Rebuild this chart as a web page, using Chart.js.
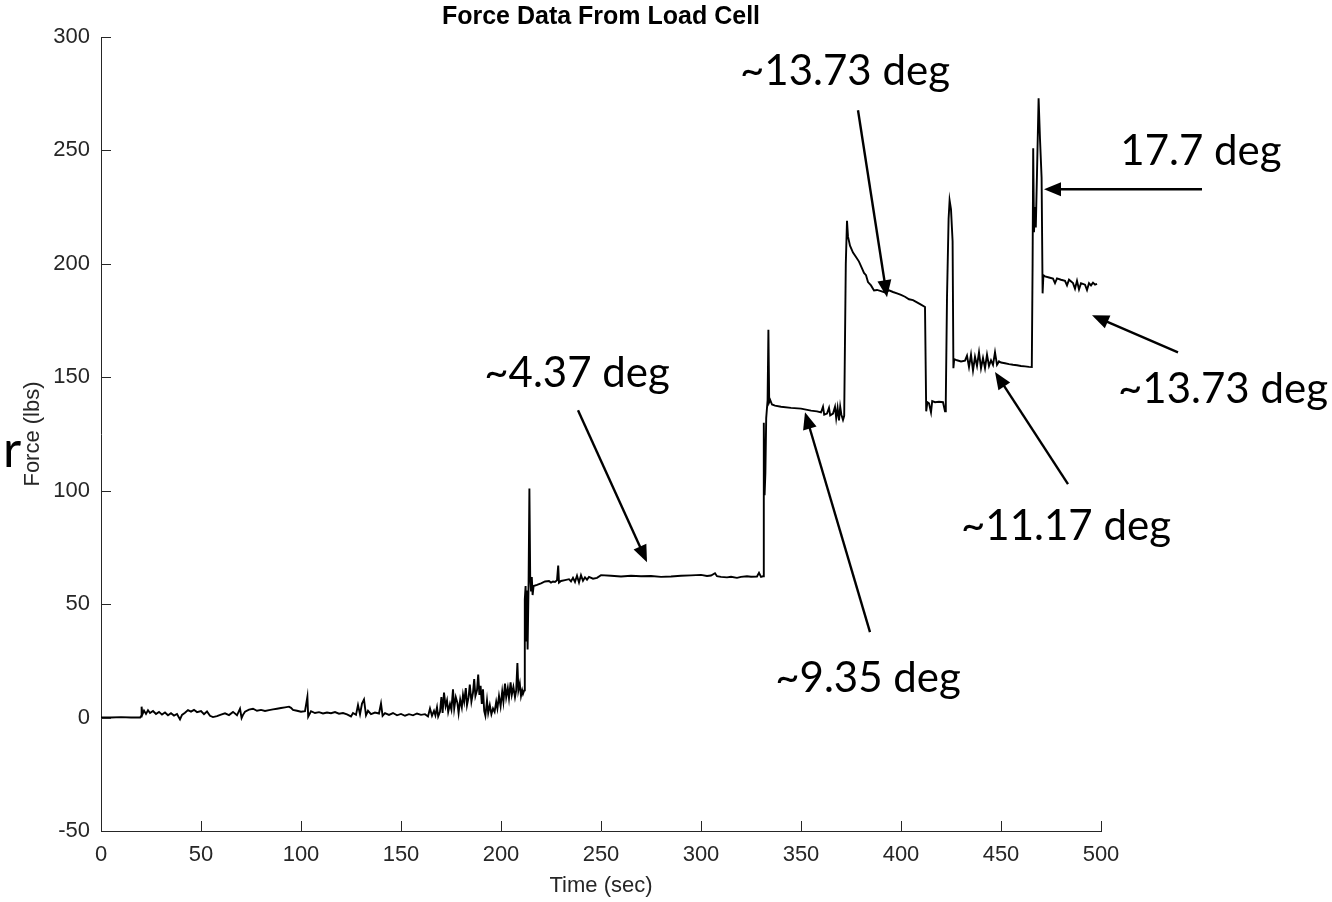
<!DOCTYPE html>
<html>
<head>
<meta charset="utf-8">
<title>Force Data From Load Cell</title>
<script src="https://cdn.jsdelivr.net/npm/chart.js@4.4.1/dist/chart.umd.min.js"></script>
<style>
  html, body { margin: 0; padding: 0; background: #fff; }
  #wrap { position: relative; width: 1332px; height: 902px; }
</style>
</head>
<body>
<div id="wrap"><canvas id="forceChart"></canvas></div>
<script>
const chartTitle = "Force Data From Load Cell";
const xTitle = "Time (sec)";
const yTitle = "Force (lbs)";
const xTickValues = [0, 50, 100, 150, 200, 250, 300, 350, 400, 450, 500];
const yTickValues = [-50, 0, 50, 100, 150, 200, 250, 300];

// samples are [time (sec), force (lbs)]
const restSamples = [
  [0,0],[5,0],[10,0.2],[15,0],[19.6,0],[20,0.6],[20.3,4.8],[20.7,1.4],[21.5,3.1],[22.5,1.6],
  [23.5,3.2],[24.5,2.0],[26,2.9],[27.5,1.6],[29,2.5],[30.5,1.3],[32,2.2],[33.5,1.0],[35,1.9],
  [36.5,0.9],[38,1.6],[39.5,-0.8],[40.5,1.2],[42,2.1],[43.5,3.3],[45,2.6],[46.5,3.4],[48,2.4],
  [50,2.9],[51.5,1.5],[53,2.7],[54.5,0.8],[56,0.2],[58,0.6],[60,1.3],[62,1.9],[64,1.1],[66,2.5],
  [68,1.0],[69.5,3.9],[70.3,-0.2],[71,1.2],[72,2.6],[74,3.5],[76,3.9],[78,3.0],[80,3.4],[82,2.9],
  [84,3.3],[86,3.6],[88,3.9],[90,4.2],[92,4.5],[94,4.8],[95,4.3],[96,3.4],[98,3.0],[100,2.6],
  [102,2.8],[103.2,9.2],[103.6,0.4],[105,2.8],[107,2.0],[109,2.4],[111,1.8],[113,2.2],[115,1.9],
  [117,2.4],[119,1.7],[121,2.0],[123,1.4],[125,0.5],[126,2.0],[127.5,1.2],[128.5,5.5],[129.5,1.5],
  [130.5,6.2],[131.5,8.0],[132.5,1.0],[133.5,3.0],[135,1.5],[137,2.2],[139,1.8],[140,6.2],
  [140.8,0.8],[142,2.0],[144,1.2],[146,2.0],[148,1.0],[150,1.6],[152,0.8],[154,1.5],[156,1.0],
  [158,1.8],[160,1.2],[162,1.5],[163.5,0.5],[164.5,4.0],[165.5,0.8]
];

const preloadSamples = [
  [166.5,3],[167.2,1],[168,4.5],[168.6,0.5],[169.5,2.5],[170.2,9],[170.8,2],[171.5,11],[172.3,5],
  [173,7.5],[173.6,2.5],[174.5,6],[175.2,3.5],[176,12.5],[176.6,4],[177.4,9],[178.2,6.5],[178.8,2],
  [179.6,8],[180.4,4.5],[181,10],[181.6,7],[182.4,13],[183,5.5],[183.8,9],[184.4,14.5],[185.2,7],
  [186,11],[186.6,17],[187.2,9.5],[188,12],[188.6,19],[189.2,10],[189.8,14],[190.4,6],[191,12.5],
  [191.6,3],[192.2,0.8],[193,7.5],[193.6,2],[194.4,5.5],[195.2,1.5],[196,4],[196.8,2.5],[197.6,7],
  [198.2,4],[199,9.5],[199.8,5],[200.6,11.5],[201.2,7],[202,15],[202.6,9],[203.4,13],[204,8.5],
  [204.8,15.5],[205.4,10],[206.2,13.5],[207,9],[207.6,12],[208.2,24],[208.7,12],[209.4,15],
  [210,9.5],[210.6,12],[211,10.5]
];

const step1Samples = [
  [211.6,12],[211.9,52],[212.3,58],[212.6,34],[212.9,56],[213.3,30],[213.8,60],[214.2,101],
  [214.6,62],[215,56],[215.4,62],[215.8,54],[216.3,58],[218,58.5],[220,59.2],[222,60],[224,60.2],
  [225,59.5],[226,60],[227,59.8],[228,60.5],[228.6,67],[229,59.5],[230,60.2],[232,60.6],[234,61],
  [235,60],[236,61.6],[237,59.8],[238,62.5],[239,59.5],[240,62.8],[241,60.3],[242,61.8],[243,60.8],
  [244,62],[246,61.2],[248,61.6],[250,62.8],[255,62.5],[260,62.2],[265,62.5],[270,62.3],[275,62.4],
  [280,62],[285,62.2],[290,62.5],[295,62.7],[300,62.9],[303,62.4],[305,62.6],[307,63.6],[308,62.3],
  [310,62],[313,61.8],[315,62.1],[318,61.6],[320,62],[323,62.3],[325,62.1],[328,62.2],[329,63.8],
  [330,62],[331,62.3]
];

const step2Samples = [
  [331.4,130],[331.8,98],[332.2,108],[332.6,132],[333.3,140],[333.7,171],[334.1,139],[334.6,140],
  [335.5,138],[337,137.5],[340,137],[345,136.5],[350,136.2],[355,135.3],[358,135],[360,134.5],
  [361,137],[361.6,133.5],[363,134],[364,136.5],[364.6,133.2],[366,134],[367,137],[367.6,132],
  [368.3,136.5],[369,131],[369.6,137],[370.2,133.5],[371,131.2],[371.6,133]
];

const step3Samples = [
  [372.4,200],[373,219],[373.5,212],[374.5,208],[376,205],[377.5,203],[379,201],[380.5,198],
  [381.5,196],[382.5,195],[383.5,192],[385,190.5],[386.5,188.3],[388,188.5],[390,188],[392,187.4],
  [394,188.3],[396,187.6],[398,187],[400,186.3],[402,185.5],[404,184.4],[406,184],[408,183],
  [410,182],[412,181]
];

const dipSamples = [
  [412.6,135],[413.2,139],[414,138.5],[415,134.5],[415.6,139.5],[417,139],[419,139.2],[421,139],
  [422,135],[422.4,140],[423,185],[423.8,220],[424.3,228],[425,224],[425.8,210]
];

const step4Samples = [
  [426.2,154],[426.6,158],[428,157.5],[430,157],[432,157.3],[433,159.5],[434,154.5],[435,160],
  [436,153],[437,159],[438,155],[439,161],[440,154],[441,158.5],[442,154],[443,160],[444,155],
  [445,157.5],[446,155.5],[447,161],[448,155.5],[449,157],[450,156.5],[452,156.2],[454,155.8],
  [456,155.5],[458,155.3],[460,155],[462,154.8],[464,154.6],[465.4,154.5]
];

const step5Samples = [
  [465.8,200],[466.1,251],[466.5,214],[467,225],[467.4,216],[468,240],[468.8,273],[469.5,255],
  [470.3,238],[470.8,187],[471.2,195],[472,194.5],[474,194],[476,193.5],[477,191.5],[478,193.6],
  [480,193],[482,192.5],[483,190.5],[484,193],[486,191.5],[487,189],[488,192.5],[489,188.7],
  [490,191.5],[492,190.8],[493,188.5],[494,191.5],[495,190.5],[496,191.7],[497,190.8],[498,191.2]
];

// callouts, placed in data units: text anchor (centre, baseline), arrow tail -> head
const callouts = [
  { text: "~4.37 deg", at: [238, 145.7], from: [238.5, 135.5], to: [273, 68.5] },
  { text: "~9.35 deg", at: [383.5, 11.2], from: [384.5, 37.7], to: [352, 134.6] },
  { text: "~13.73 deg", at: [372, 278.8], from: [378.5, 267.7], to: [393, 185.3] },
  { text: "17.7 deg", at: [550, 243.5], from: [550.5, 232.9], to: [471.5, 232.9] },
  { text: "~13.73 deg", at: [561, 138.6], from: [538.5, 161], to: [495.5, 177.4] },
  { text: "~11.17 deg", at: [482.5, 78.2], from: [483.5, 102.9], to: [447, 152.3] },
  { text: "r", at: [-44.5, 110.5], big: true }
];

const samples = [].concat(restSamples, preloadSamples, step1Samples, step2Samples,
  step3Samples, dipSamples, step4Samples, step5Samples);

Chart.defaults.font.family = "'Liberation Sans', Arial, sans-serif";
Chart.defaults.color = "#262626";

const calloutPlugin = {
  id: "callouts",
  afterDatasetsDraw(chart) {
    const { ctx, chartArea, scales: { x, y } } = chart;
    ctx.save();

    // matlab style ticks pointing into the axes
    ctx.strokeStyle = "#262626";
    ctx.lineWidth = 1;
    ctx.beginPath();
    xTickValues.forEach(v => {
      const px = Math.round(x.getPixelForValue(v)) + 0.5;
      ctx.moveTo(px, chartArea.bottom);
      ctx.lineTo(px, chartArea.bottom - 10);
    });
    yTickValues.forEach(v => {
      const py = Math.round(y.getPixelForValue(v)) + 0.5;
      ctx.moveTo(chartArea.left, py);
      ctx.lineTo(chartArea.left + 10, py);
    });
    ctx.stroke();

    ctx.fillStyle = "#000";
    ctx.strokeStyle = "#000";
    ctx.textAlign = "center";
    ctx.textBaseline = "alphabetic";
    callouts.forEach(c => {
      ctx.font = c.big ? "50px Lato" : "42px Lato";
      ctx.fillText(c.text, x.getPixelForValue(c.at[0]), y.getPixelForValue(c.at[1]));
      if (!c.from) return;
      const x0 = x.getPixelForValue(c.from[0]), y0 = y.getPixelForValue(c.from[1]);
      const x1 = x.getPixelForValue(c.to[0]), y1 = y.getPixelForValue(c.to[1]);
      const ang = Math.atan2(y1 - y0, x1 - x0);
      const headLen = 17, headHalf = 7;
      ctx.lineWidth = 2.4;
      ctx.beginPath();
      ctx.moveTo(x0, y0);
      ctx.lineTo(x1 - Math.cos(ang) * headLen * 0.8, y1 - Math.sin(ang) * headLen * 0.8);
      ctx.stroke();
      ctx.beginPath();
      ctx.moveTo(x1, y1);
      ctx.lineTo(x1 - Math.cos(ang) * headLen - Math.sin(ang) * headHalf,
                 y1 - Math.sin(ang) * headLen + Math.cos(ang) * headHalf);
      ctx.lineTo(x1 - Math.cos(ang) * headLen + Math.sin(ang) * headHalf,
                 y1 - Math.sin(ang) * headLen - Math.cos(ang) * headHalf);
      ctx.closePath();
      ctx.fill();
    });
    ctx.restore();
  }
};

const ctx = document.getElementById("forceChart").getContext("2d");
new Chart(ctx, {
  type: "line",
  data: {
    datasets: [{
      label: "Force",
      data: samples.map(s => ({ x: s[0], y: s[1] })),
      borderColor: "#000",
      borderWidth: 1.9,
      pointRadius: 0,
      tension: 0,
      fill: false
    }]
  },
  options: {
    responsive: true,
    maintainAspectRatio: false,
    animation: false,
    layout: { padding: { left: 0, right: 231, top: 0, bottom: 0 } },
    plugins: {
      legend: { display: false },
      tooltip: { enabled: false },
      title: {
        display: true,
        text: chartTitle,
        color: "#000",
        fullSize: false,
        font: { size: 25, weight: "bold", lineHeight: 1.2 },
        padding: { top: 2, bottom: 5 }
      }
    },
    scales: {
      x: {
        type: "linear",
        min: 0,
        max: 500,
        afterBuildTicks: s => { s.ticks = xTickValues.map(v => ({ value: v })); },
        afterFit: s => { s.height = 71; },
        grid: { display: false, drawTicks: false },
        border: { display: true, color: "#262626", width: 1 },
        ticks: { font: { size: 22 }, padding: 11, maxRotation: 0, autoSkip: false },
        title: { display: true, text: xTitle, font: { size: 22 }, padding: { top: 0, bottom: 3 } }
      },
      y: {
        type: "linear",
        min: -50,
        max: 300,
        afterBuildTicks: s => { s.ticks = yTickValues.map(v => ({ value: v })); },
        afterFit: s => { s.width = 101; },
        grid: { display: false, drawTicks: false },
        border: { display: true, color: "#262626", width: 1 },
        ticks: { font: { size: 22 }, padding: 11, autoSkip: false },
        title: { display: true, text: yTitle, font: { size: 22 }, padding: { top: 20, bottom: 0 } }
      }
    }
  },
  plugins: [calloutPlugin]
});
</script>
</body>
</html>
